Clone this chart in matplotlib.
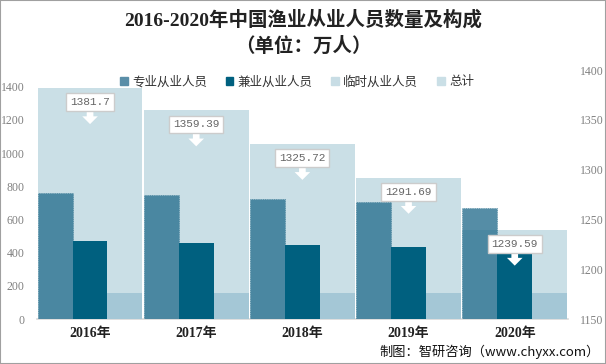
import numpy as np
import matplotlib.pyplot as plt
from matplotlib.patches import Patch, Rectangle

plt.rcParams['font.family'] = ['Noto Sans CJK SC', 'DejaVu Sans']

years = ['2016年', '2017年', '2018年', '2019年', '2020年']
zhuanye = [758, 746, 722, 704, 668]   # 专业从业人员
jianye = [469, 457, 445, 432, 417]    # 兼业从业人员
linshi = [155, 155, 159, 155, 155]    # 临时从业人员
total = [1381.7, 1359.39, 1325.72, 1291.69, 1239.59]  # 总计 (right axis)

c_zy = '#2a7190'
c_jy = '#00607f'
c_ls = '#a4c7d6'
c_tot = '#cadfe6'

fig = plt.figure(figsize=(6.06, 3.64), dpi=100)
ax = fig.add_axes([0.061, 0.1236, 0.876, 0.684])
ax2 = ax.twinx()

x = np.arange(len(years))
w = 0.985

# totals on the back axes, ticks on the right
ax.bar(x, total, width=w, color=c_tot, zorder=1)
ax.set_ylim(1150, 1400)
ax.set_yticks(np.arange(1150, 1401, 50))
ax.yaxis.tick_right()

sw = w / 3
ax2.bar(x - sw, zhuanye, width=sw, color=c_zy, alpha=0.8,
        edgecolor='#3d7a96', linewidth=0.6, linestyle=':')
ax2.bar(x, jianye, width=sw, color=c_jy)
ax2.bar(x + sw, linshi, width=sw, color=c_ls)
ax2.set_ylim(0, 1500)
ax2.set_yticks(np.arange(0, 1401, 200))
ax2.yaxis.tick_left()
ax.set_xlim(-0.5, 4.5)

for a in (ax, ax2):
    for s in a.spines.values():
        s.set_visible(False)
    a.tick_params(axis='y', length=0, pad=9, labelsize=8.5, labelcolor='#808080')
    for lab in a.get_yticklabels():
        lab.set_family(['Liberation Serif', 'DejaVu Serif'])
ax.spines['bottom'].set_visible(True)
ax.spines['bottom'].set_color('#d9d9d9')
ax.spines['bottom'].set_linewidth(1.2)

ax.set_xticks(x)
ax.set_xticklabels(years, fontsize=10, fontweight='bold',
                   family=['Liberation Serif', 'Noto Sans CJK SC'])
ax.tick_params(axis='x', length=0, pad=6, labelcolor='#222222')

# callouts for totals
for xi, t in zip(x, total):
    ax2.annotate(f'{t:g}', xy=(xi, t - 36), xycoords=ax.transData,
                 xytext=(xi, t - 14), textcoords=ax.transData,
                 ha='center', va='center', fontsize=8, color='#666666',
                 family=['Liberation Mono', 'DejaVu Sans Mono'], zorder=10,
                 bbox=dict(boxstyle='square,pad=0.35', fc='white', ec='#cccccc', lw=1),
                 arrowprops=dict(arrowstyle='simple,head_length=0.7,head_width=1.4,tail_width=0.6',
                                 fc='white', ec='none', shrinkA=0, shrinkB=0))

handles = [Patch(color='#5a8ea8'), Patch(color=c_jy), Patch(color='#c8dde5'), Patch(color=c_tot)]
labels = ['专业从业人员', '兼业从业人员', '临时从业人员', '总计']
ax2.legend(handles, labels, ncol=4, loc='center', bbox_to_anchor=(0.49, 0.952),
           frameon=False, fontsize=9, handlelength=0.6, handleheight=0.6,
           handletextpad=0.35, columnspacing=1.5, labelcolor='#333333')

fig.text(0.5, 0.945, '2016-2020年中国渔业从业人员数量及构成', ha='center', va='center',
         fontsize=14, fontweight='bold', color='#222222',
         family=['Liberation Serif', 'Noto Sans CJK SC'])
fig.text(0.5, 0.874, '（单位：万人）', ha='center', va='center',
         fontsize=14, fontweight='bold', color='#222222')
fig.text(0.99, 0.033, '制图：智研咨询（www.chyxx.com）', ha='right', va='center',
         fontsize=9.5, color='#111111')

fig.patches.append(Rectangle((0, 0), 1, 1, transform=fig.transFigure, fill=False,
                             ec='#a0a0a0', lw=1.5))

fig.savefig('out.png', dpi=100)
